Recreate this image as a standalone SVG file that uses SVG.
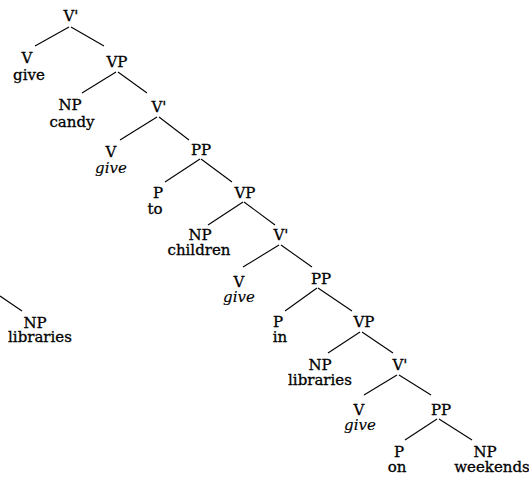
<svg xmlns="http://www.w3.org/2000/svg" width="529" height="479" viewBox="0 0 529 479">
<style>
text{font-family:"DejaVu Serif","Liberation Serif",serif;font-size:15px;fill:#000;stroke:#000;stroke-width:0.3;text-anchor:middle}
.it{font-style:italic;stroke-width:0.15}
line{stroke:#000;stroke-width:1.1}
</style>
<rect width="529" height="479" fill="#fff"/>
<g id="connectors">
<line x1="69" y1="27" x2="35" y2="46"/><line x1="71" y1="27" x2="104" y2="46"/>
<line x1="116" y1="72" x2="82" y2="93"/><line x1="118" y1="72" x2="147" y2="93"/>
<line x1="157" y1="117" x2="120" y2="140"/><line x1="159" y1="117" x2="189" y2="140"/>
<line x1="200" y1="159" x2="165" y2="182"/><line x1="201" y1="159" x2="232" y2="182"/>
<line x1="243" y1="202" x2="208" y2="225"/><line x1="244" y1="202" x2="275" y2="225"/>
<line x1="279" y1="245" x2="243" y2="267"/><line x1="281" y1="245" x2="312" y2="267"/>
<line x1="317" y1="288" x2="285" y2="311"/><line x1="318" y1="288" x2="352" y2="311"/>
<line x1="360" y1="332" x2="328" y2="353"/><line x1="362" y1="332" x2="393" y2="353"/>
<line x1="397" y1="375" x2="364" y2="395"/><line x1="399" y1="375" x2="431" y2="395"/>
<line x1="437" y1="419" x2="405" y2="440"/><line x1="439" y1="419" x2="472" y2="440"/>
<line x1="0" y1="296" x2="22" y2="311"/>
</g>
<g id="n0"><text x="71" y="21">V'</text></g>
<g id="n1"><text x="27" y="63">V</text><text x="29" y="80">give</text></g>
<g id="n2"><text x="117" y="67">VP</text></g>
<g id="n3"><text x="70" y="110">NP</text><text x="72" y="127">candy</text></g>
<g id="n4"><text x="159" y="112">V'</text></g>
<g id="n5"><text x="111" y="157">V</text><text class="it" x="111" y="173">give</text></g>
<g id="n6"><text x="201" y="155">PP</text></g>
<g id="n7"><text x="158" y="198">P</text><text x="155" y="214">to</text></g>
<g id="n8"><text x="245" y="198">VP</text></g>
<g id="n9"><text x="200" y="240">NP</text><text x="199" y="255">children</text></g>
<g id="n10"><text x="281" y="240">V'</text></g>
<g id="n11"><text x="239" y="287">V</text><text class="it" x="239" y="302">give</text></g>
<g id="n12"><text x="321" y="284">PP</text></g>
<g id="n13"><text x="278" y="327">P</text><text x="280" y="342">in</text></g>
<g id="n14"><text x="364" y="327">VP</text></g>
<g id="n15"><text x="320" y="370">NP</text><text x="320" y="385">libraries</text></g>
<g id="n16"><text x="400" y="370">V'</text></g>
<g id="n17"><text x="359" y="415">V</text><text class="it" x="360" y="430">give</text></g>
<g id="n18"><text x="441" y="415">PP</text></g>
<g id="n19"><text x="399" y="457">P</text><text x="397" y="472">on</text></g>
<g id="n20"><text x="485" y="457">NP</text><text x="492" y="472">weekends</text></g>
<g id="n21"><text x="35" y="328">NP</text><text x="40" y="342">libraries</text></g>
</svg>
